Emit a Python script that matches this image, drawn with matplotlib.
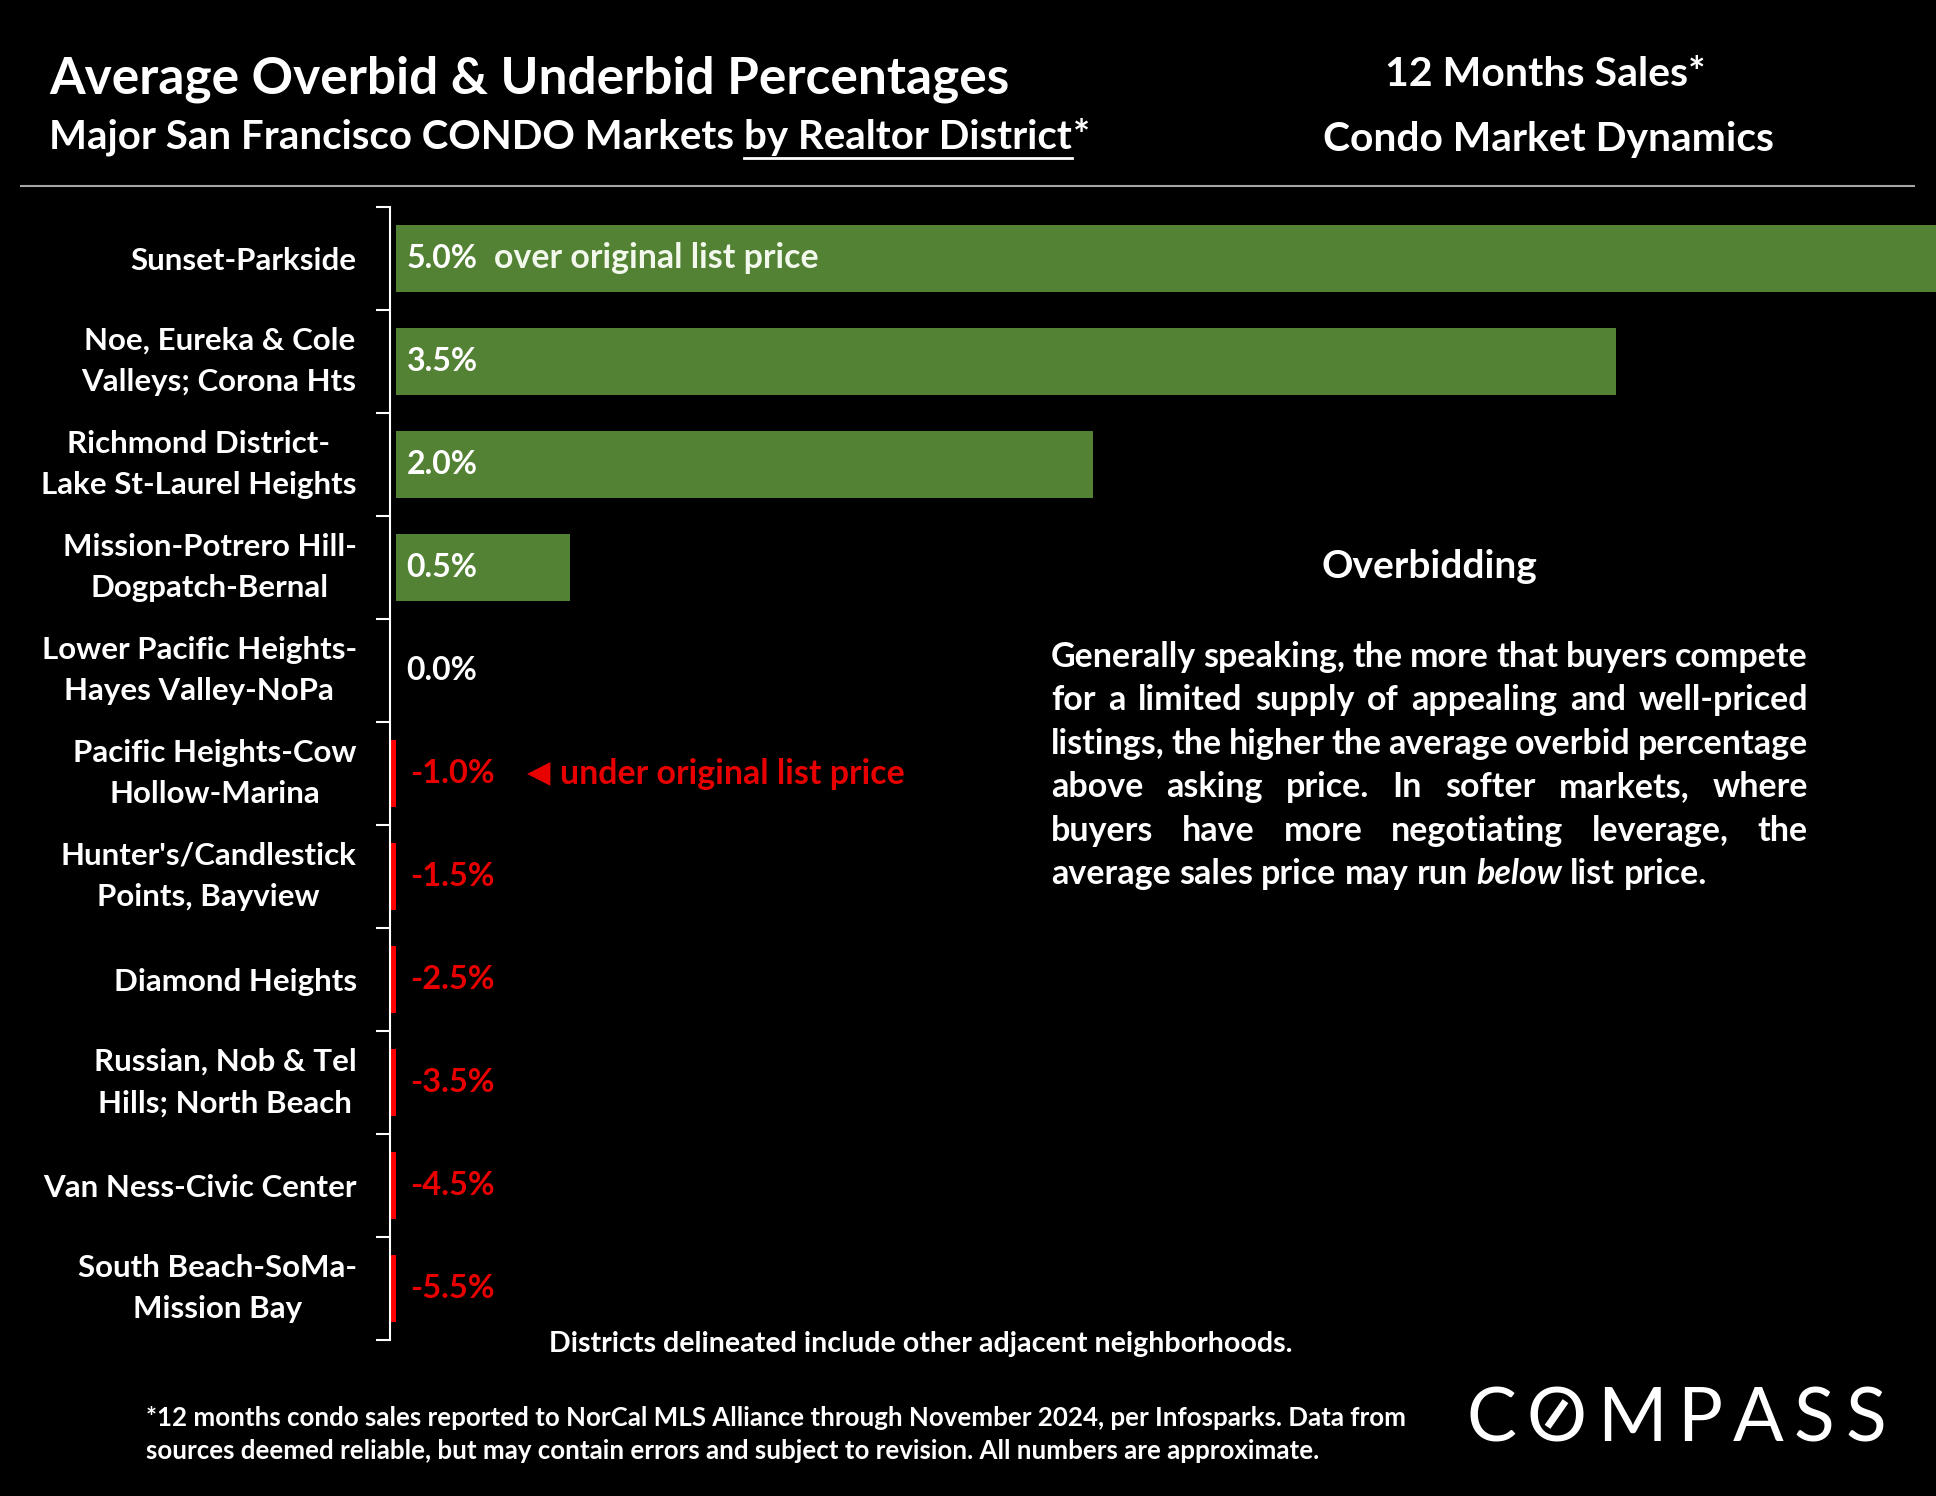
import matplotlib
matplotlib.use("Agg")
import numpy as np
import matplotlib.pyplot as plt
from matplotlib.lines import Line2D

plt.rcParams['font.family'] = ['Lato', 'DejaVu Sans']

districts = ["Sunset-Parkside",
             "Noe, Eureka & Cole\nValleys; Corona Hts",
             "Richmond District-\nLake St-Laurel Heights",
             "Mission-Potrero Hill-\nDogpatch-Bernal",
             "Lower Pacific Heights-\nHayes Valley-NoPa",
             "Pacific Heights-Cow\nHollow-Marina",
             "Hunter's/Candlestick\nPoints, Bayview",
             "Diamond Heights",
             "Russian, Nob & Tel\nHills; North Beach",
             "Van Ness-Civic Center",
             "South Beach-SoMa-\nMission Bay"]
overbid = [5.0, 3.5, 2.0, 0.5, 0.0, -1.0, -1.5, -2.5, -3.5, -4.5, -5.5]

para_lines = [
    "Generally speaking, the more that buyers compete",
    "for a limited supply of appealing and well-priced",
    "listings, the higher the average overbid percentage",
    "above asking price. In softer markets, where",
    "buyers have more negotiating leverage, the",
    "average sales price may run below list price.",
]

GREEN = '#548235'
RED = '#FF0000'
RED_TXT = '#E80000'
W, H = 1936, 1496

fig = plt.figure(figsize=(W / 100, H / 100), dpi=100, facecolor='black')
r = fig.canvas.get_renderer()


def fy(py):
    return 1 - py / H


def measure(s, **kw):
    t = fig.text(0, 0, s, **kw)
    w = t.get_window_extent(r).width
    t.remove()
    return w


# ---- bar chart
ax = fig.add_axes([390 / W, fy(1340), 1 - 390 / W, (1340 - 207) / H])
ax.set_facecolor('black')
n = len(districts)
cols = [GREEN if v >= 0 else RED for v in overbid]
ax.barh(np.arange(n), overbid, height=0.66, color=cols)
ax.set_ylim(n - 0.5, -0.5)
ax.set_xlim(-0.018, 4.42)
for s in ['top', 'right', 'bottom']:
    ax.spines[s].set_visible(False)
ax.spines['left'].set_color('white')
ax.spines['left'].set_linewidth(1.5)
ax.set_xticks([])
ax.set_yticks(np.arange(n))
ax.set_yticklabels(districts)
ax.set_yticks(np.arange(-0.5, n), minor=True)
ax.tick_params(axis='y', which='major', length=0, pad=24, labelsize=22.5, labelcolor='white')
ax.tick_params(axis='y', which='minor', length=10, width=1.5, color='white')
for lbl in ax.get_yticklabels():
    lbl.set_multialignment('center')
    lbl.set_fontweight('bold')
    lbl.set_linespacing(1.6)
    if '\n' in lbl.get_text():
        lbl.set_verticalalignment('center')

for i, v in enumerate(overbid):
    if v >= 0:
        ax.text(0.03, i, f"{v:.1f}%", color='white', fontsize=23, fontweight='bold', va='center', ha='left')
    else:
        ax.text(0.04, i, f"{v:.1f}%", color=RED_TXT, fontsize=23.5, fontweight='bold', va='center', ha='left')

ax.text(0.28, 0, "over original list price", color='#F2F8EC', fontsize=24.4, fontweight='bold', va='center')
ax.text(0.375, 5, "\u25C0", color=RED_TXT, fontsize=22, va='center', family='DejaVu Sans')
ax.text(0.47, 5, "under original list price", color=RED_TXT, fontsize=24.4, fontweight='bold', va='center')

# ---- titles
fig.text(49 / W, fy(79), "Average Overbid & Underbid Percentages", color='white',
         fontsize=37, fontweight='bold', va='center')

sub_kw = dict(color='white', fontsize=29, fontweight='bold', va='center')
x = 49
parts = ["Major San Francisco CONDO Markets", "by Realtor District", "*"]
sp = measure("a a", **sub_kw) - measure("aa", **sub_kw)
for k, p in enumerate(parts):
    t = fig.text(x / W, fy(137), p, **sub_kw)
    bb = t.get_window_extent(r)
    if k == 1:
        fig.add_artist(Line2D([bb.x0 / W, bb.x1 / W], [fy(158), fy(158)], color='white', lw=2,
                              transform=fig.transFigure))
    x += bb.width + (sp if k == 0 else 1)

fig.text(1545 / W, fy(74), "12 Months Sales*", color='white', fontsize=29.5, fontweight='bold', va='center', ha='center')
fig.text(1548 / W, fy(139), "Condo Market Dynamics", color='white', fontsize=29.3, fontweight='bold', va='center', ha='center')

fig.add_artist(Line2D([21 / W, 1914 / W], [fy(186), fy(186)], color='#A6A6A6', lw=1.5, transform=fig.transFigure))

# ---- right panel
fig.text(1429 / W, fy(566), "Overbidding", color='white', fontsize=28, fontweight='bold', va='center', ha='center')

pk = dict(color='white', fontsize=24.5, fontweight='bold', va='baseline')
sp = measure("a a", **pk) - measure("aa", **pk)
x0, x1 = 1051, 1808
for li, line in enumerate(para_lines):
    yb = 667 + li * 43.4
    words = line.split()
    texts, widths = [], []
    for w in words:
        st = 'italic' if w == 'below' else 'normal'
        t = fig.text(0, fy(yb), w, fontstyle=st, **pk)
        texts.append(t)
        widths.append(t.get_window_extent(r).width)
    if li == len(para_lines) - 1:
        gap = sp
    else:
        gap = (x1 - x0 - sum(widths)) / (len(words) - 1)
    x = x0
    for t, w in zip(texts, widths):
        t.set_x(x / W)
        x += w + gap

# ---- footnotes
fig.text(921 / W, fy(1344), "Districts delineated include other adjacent neighborhoods.", color='white',
         fontsize=20.6, fontweight='bold', va='center', ha='center')
fig.text(146 / W, fy(1418), "*12 months condo sales reported to NorCal MLS Alliance through November 2024, per Infosparks. Data from",
         color='white', fontsize=18.6, fontweight='bold', va='center')
fig.text(146 / W, fy(1451), "sources deemed reliable, but may contain errors and subject to revision. All numbers are approximate.",
         color='white', fontsize=18.6, fontweight='bold', va='center')

# ---- logo
lk = dict(color='white', fontsize=54, fontweight='normal', va='baseline')
letters = list("COMPASS")
lt, lw_ = [], []
for c in letters:
    t = fig.text(0, fy(1441), c, **lk)
    lt.append(t)
    lw_.append(t.get_window_extent(r).width)
gap = (1886 - 1466 - sum(lw_)) / (len(letters) - 1)
x = 1466
for k, (t, w) in enumerate(zip(lt, lw_)):
    t.set_x(x / W)
    if k == 1:
        bb = t.get_window_extent(r)
        cx, cy = (bb.x0 + bb.x1) / 2, fy(1414) * H
        fig.add_artist(Line2D([(cx - 7) / W, (cx + 7) / W], [(cy - 10) / H, (cy + 10) / H],
                              color='white', lw=5, transform=fig.transFigure))
    x += w + gap

fig.savefig("out.png", dpi=100, facecolor='black')
